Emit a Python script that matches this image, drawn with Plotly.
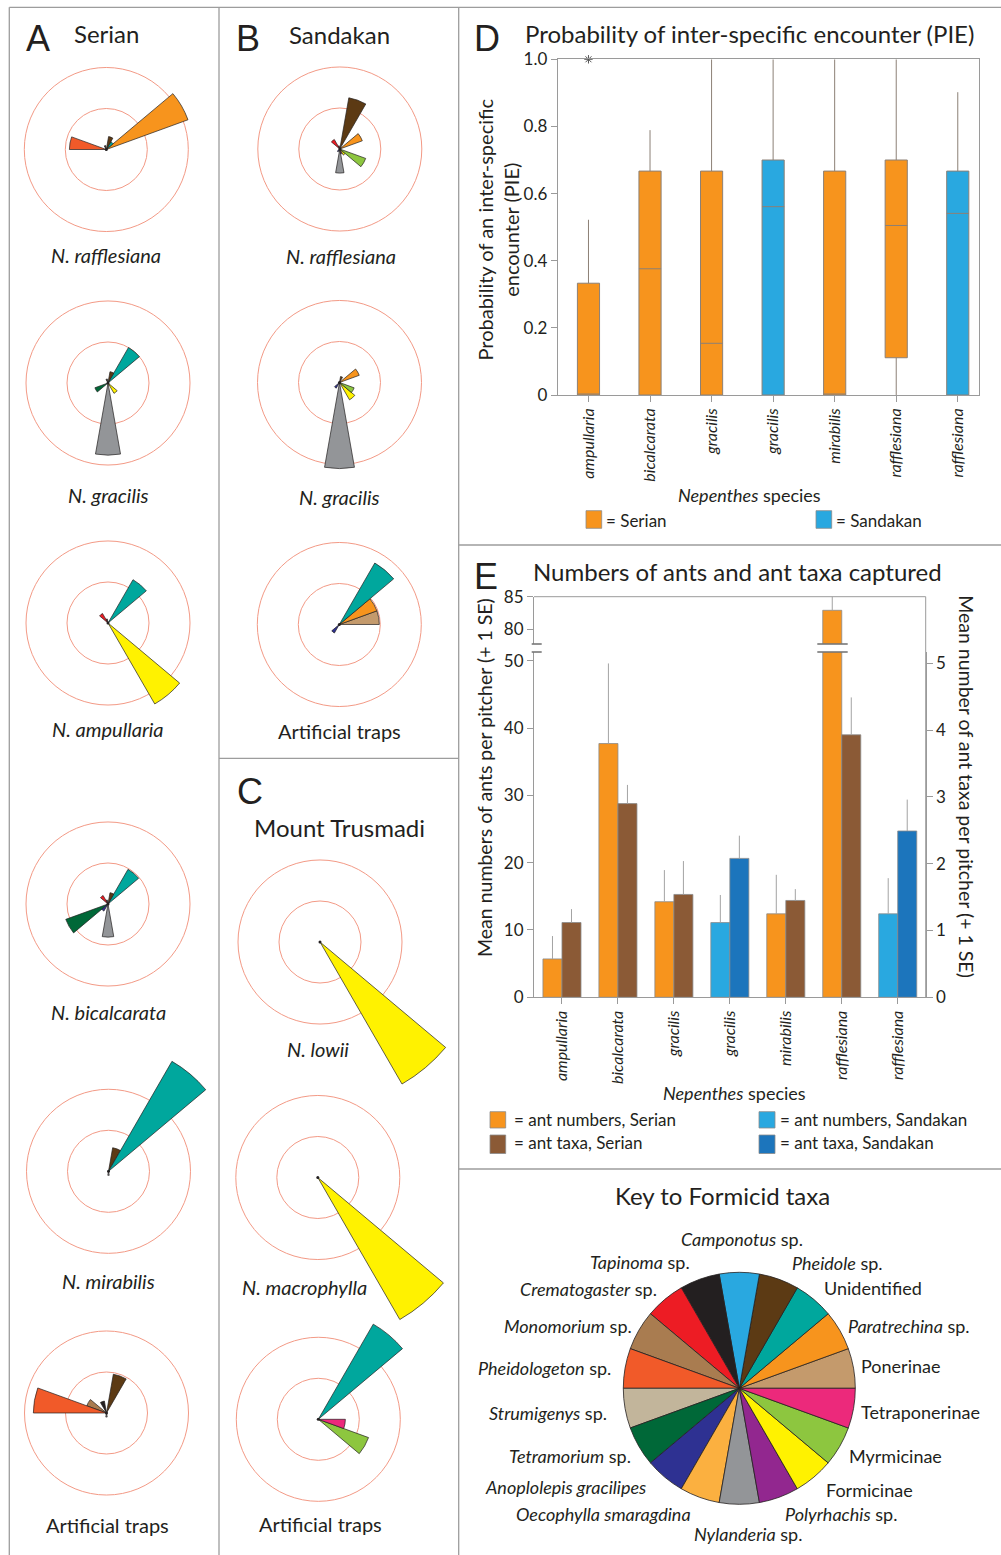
import plotly.graph_objects as go

# ------------------------------------------------------------------
# Formicid taxa (anticlockwise from 3 o'clock, 20 degrees each)
# ------------------------------------------------------------------
taxa = [
    "Ponerinae", "Paratrechina sp.", "Unidentified", "Pheidole sp.",
    "Camponotus sp.", "Tapinoma sp.", "Crematogaster sp.", "Monomorium sp.",
    "Pheidologeton sp.", "Strumigenys sp.", "Tetramorium sp.",
    "Anoplolepis gracilipes", "Oecophylla smaragdina", "Nylanderia sp.",
    "Polyrhachis sp.", "Formicinae", "Myrmicinae", "Tetraponerinae",
]
taxa_labels = [
    "Ponerinae", "<i>Paratrechina</i> sp.", "Unidentified", "<i>Pheidole</i> sp.",
    "<i>Camponotus</i> sp.", "<i>Tapinoma</i> sp.", "<i>Crematogaster</i> sp.",
    "<i>Monomorium</i> sp.", "<i>Pheidologeton</i> sp.", "<i>Strumigenys</i> sp.",
    "<i>Tetramorium</i> sp.", "<i>Anoplolepis gracilipes</i>",
    "<i>Oecophylla smaragdina</i>", "<i>Nylanderia</i> sp.",
    "<i>Polyrhachis</i> sp.", "Formicinae", "Myrmicinae", "Tetraponerinae",
]
taxa_colors = [
    "#c49a6c", "#f7941d", "#00a79d", "#5c3a14", "#29a8e0", "#231f20",
    "#ed1c24", "#a97c50", "#f15a29", "#c2b59b", "#006838", "#2e3192",
    "#fbb040", "#939598", "#92278f", "#fff200", "#8dc63f", "#ec297b",
]
key_shares = [1, 1, 1, 1, 1, 1, 1, 1, 1, 1, 1, 1, 1, 1, 1, 1, 1, 1]

# Percentage of captured ants per taxon (same order as `taxa`)
serian_rafflesiana = [0, 53, 5.5, 8, 0, 2.5, 0, 0, 22.5, 0, 0, 0, 0, 0, 0, 0, 0, 0]
serian_gracilis = [0, 0, 25, 7, 0, 2.5, 0, 0, 0, 0, 8.5, 0, 0, 44, 0, 7.3, 0, 0]
serian_ampullaria = [0, 0, 30.5, 0, 0, 2.5, 6.7, 0, 0, 0, 0, 0, 0, 0, 0, 57, 0, 0]
serian_bicalcarata = [0, 0, 24.4, 7, 0, 2.5, 6, 0, 0, 0, 27.4, 5, 0, 20.2, 0, 0, 0, 0]
serian_mirabilis = [0, 0, 77.4, 14.6, 0, 0, 0, 0, 0, 0, 0, 0, 0, 2.5, 0, 0, 0, 0]
serian_traps = [0, 0, 0, 24, 0, 7.4, 0, 12.8, 44.6, 0, 0, 0, 0, 2.5, 0, 0, 0, 0]
sandakan_rafflesiana = [0, 14.6, 0, 31.7, 0, 2, 6.7, 0, 0, 0, 0, 2, 0, 14.7, 3, 4.3, 16.8, 0]
sandakan_gracilis = [0, 12.8, 0, 3.7, 0, 0, 0, 0, 0, 0, 0, 4, 0, 52.5, 0, 12.2, 9.5, 0]
sandakan_traps = [24.4, 24.4, 43.3, 0, 0, 0, 0, 0, 0, 0, 0, 6, 0, 0, 0, 0, 0, 0]
trusmadi_lowii = [0, 0, 0, 0, 0, 0, 0, 0, 0, 0, 0, 0, 0, 0, 0, 100, 0, 0]
trusmadi_macrophylla = [0, 0, 0, 0, 0, 0, 0, 0, 0, 0, 0, 0, 0, 0, 0, 100, 0, 0]
trusmadi_traps = [0, 0, 67, 0, 0, 0, 0, 0, 0, 0, 0, 0, 0, 0, 0, 0, 32.6, 16.5]
rose_rings = [25, 50]

# Probability of inter-specific encounter (box statistics)
species = ["ampullaria", "bicalcarata", "gracilis", "gracilis",
           "mirabilis", "rafflesiana", "rafflesiana"]
site = ["Serian", "Serian", "Serian", "Sandakan", "Serian", "Serian", "Sandakan"]
pie_lower = [0, 0, 0, 0, 0, 0, 0]
pie_q1 = [0, 0, 0, 0, 0, 0.111, 0]
pie_median = [0, 0.376, 0.154, 0.561, 0, 0.505, 0.541]
pie_q3 = [0.333, 0.667, 0.667, 0.70, 0.667, 0.70, 0.667]
pie_upper = [0.522, 0.789, 1.0, 1.0, 1.0, 1.0, 0.902]
pie_outlier_idx = [0]
pie_outlier_val = [1.0]

# Ants and ant taxa per pitcher (mean, +1 SE)
ants_mean = [5.7, 37.7, 14.2, 11.1, 12.4, 82.9, 12.4]
ants_se = [3.4, 11.9, 4.7, 4.1, 5.8, 6.0, 5.3]
ant_taxa_mean = [1.12, 2.90, 1.54, 2.08, 1.45, 3.93, 2.49]
ant_taxa_se = [0.20, 0.28, 0.50, 0.34, 0.17, 0.56, 0.47]

# ------------------------------------------------------------------
W, H = 1001, 1555
FONT = "Lato, 'Open Sans', sans-serif"
LETTER = "'Liberation Sans', Arial, sans-serif"
INK = "#231f20"
FRAME = "#9d9d9d"
AXIS = "#9a9a9a"
RING = "#f39a86"
ORANGE = "#f7941d"
SKY = "#29a8e0"
BROWN = "#8b5a36"
NAVY = "#1c75bc"
site_fill = {"Serian": ORANGE, "Sandakan": SKY}
site_taxa_fill = {"Serian": BROWN, "Sandakan": NAVY}


def fx(px):
    return px / W


def fy(py):
    return 1 - py / H


fig = go.Figure()
layout = dict(
    width=W, height=H, margin=dict(l=0, r=0, t=0, b=0),
    paper_bgcolor="white", plot_bgcolor="white", template="none",
    font=dict(family=FONT, color=INK), showlegend=False, barmode="overlay",
)
annotations = []
shapes = []


def text(x, y, s, size, xanchor="center", angle=0, family=FONT):
    annotations.append(dict(
        x=fx(x), y=fy(y), xref="paper", yref="paper", text=s, showarrow=False,
        xanchor=xanchor, yanchor="middle", textangle=angle,
        font=dict(family=family, size=size, color=INK)))


def line(x0, y0, x1, y1, color=FRAME, width=1.3):
    shapes.append(dict(type="line", xref="paper", yref="paper",
                       x0=fx(x0), y0=fy(y0), x1=fx(x1), y1=fy(y1),
                       line=dict(color=color, width=width)))


def swatch(x0, y0, x1, y1, color):
    shapes.append(dict(type="rect", xref="paper", yref="paper",
                       x0=fx(x0), y0=fy(y1), x1=fx(x1), y1=fy(y0),
                       fillcolor=color, line=dict(color="#8a8a8a", width=0.8)))


# ------------------------------------------------------------------
# Rose diagrams (panels A, B, C)
# ------------------------------------------------------------------
RING_PX = 82.0                       # pixel radius of the 50 % ring
SCALE = RING_PX / rose_rings[-1]     # pixels per percentage point
R_MIN = 51
theta = [10 + 20 * i for i in range(len(taxa))]

roses = [
    (serian_rafflesiana, 106.3, 149.5),
    (serian_gracilis, 108.0, 383.0),
    (serian_ampullaria, 108.0, 623.0),
    (serian_bicalcarata, 108.0, 904.0),
    (serian_mirabilis, 108.5, 1171.3),
    (serian_traps, 106.5, 1413.0),
    (sandakan_rafflesiana, 339.8, 149.0),
    (sandakan_gracilis, 339.5, 382.5),
    (sandakan_traps, 339.3, 624.5),
    (trusmadi_lowii, 320.0, 942.0),
    (trusmadi_macrophylla, 317.8, 1177.5),
    (trusmadi_traps, 318.3, 1419.3),
]

polar_count = [0]


def add_polar(vals, idx, rmax, dom_x, dom_y, sector=None, rings=True):
    polar_count[0] += 1
    n = polar_count[0]
    pid = "polar" if n == 1 else f"polar{n}"
    fig.add_trace(go.Barpolar(
        r=[vals[i] for i in idx], theta=[theta[i] for i in idx],
        width=[20] * len(idx),
        marker=dict(color=[taxa_colors[i] for i in idx],
                    line=dict(color=INK, width=0.7)),
        subplot=pid, hoverinfo="skip", showlegend=False))
    if rings:
        fig.add_trace(go.Scatterpolar(
            r=[0], theta=[0], mode="markers", cliponaxis=False,
            marker=dict(size=3, color=INK), subplot=pid,
            hoverinfo="skip", showlegend=False))
    spec = dict(
        domain=dict(x=[fx(dom_x[0]), fx(dom_x[1])],
                    y=[fy(dom_y[1]), fy(dom_y[0])]),
        bgcolor="rgba(0,0,0,0)", barmode="overlay",
        radialaxis=dict(range=[0, rmax], tickvals=rose_rings,
                        showticklabels=False, ticks="", showline=False,
                        showgrid=rings, gridcolor=RING, gridwidth=1),
        angularaxis=dict(rotation=0, direction="counterclockwise",
                         showgrid=False, showline=False,
                         showticklabels=False, ticks=""),
    )
    if sector is not None:
        spec["sector"] = sector
    layout[pid] = spec


for vals, cx, cy in roses:
    nonzero = [i for i, v in enumerate(vals) if v > 0]
    r_need = max(R_MIN, max(vals) * 1.03)
    half = r_need * SCALE
    fits = (cx - half >= 0 and cx + half <= W and cy - half >= 0 and cy + half <= H)
    if fits:
        add_polar(vals, nonzero, r_need, (cx - half, cx + half), (cy - half, cy + half))
    else:
        # rings and short wedges on a full disc, long wedges on a quarter sector
        half0 = R_MIN * SCALE
        short = [i for i in nonzero if vals[i] <= R_MIN]
        long_ = [i for i in nonzero if vals[i] > R_MIN]
        add_polar(vals, short, R_MIN, (cx - half0, cx + half0), (cy - half0, cy + half0))
        add_polar(vals, long_, r_need, (cx, cx + half), (cy - half, cy),
                  sector=[0, 90], rings=False)

# rose captions
rose_captions = [
    ("<i>N. rafflesiana</i>", 106, 255), ("<i>N. gracilis</i>", 108.5, 495),
    ("<i>N. ampullaria</i>", 108, 729), ("<i>N. bicalcarata</i>", 108.3, 1011.7),
    ("<i>N. mirabilis</i>", 108.8, 1281), ("Artificial traps", 107.5, 1525),
    ("<i>N. rafflesiana</i>", 340.5, 256), ("<i>N. gracilis</i>", 339.5, 496.7),
    ("Artificial traps", 339.3, 730.7), ("<i>N. lowii</i>", 318.3, 1049.3),
    ("<i>N. macrophylla</i>", 304, 1286.7), ("Artificial traps", 320, 1524),
]
for s, x, y in rose_captions:
    text(x, y, s, 20)

text(38, 38.5, "A", 36, family=LETTER)
text(106.2, 33.5, "Serian", 24)
text(248.3, 38.5, "B", 36, family=LETTER)
text(339, 34, "Sandakan", 24)
text(250, 791, "C", 36, family=LETTER)
text(339, 827.7, "Mount Trusmadi", 24)

# ------------------------------------------------------------------
# Panel D : PIE box plots
# ------------------------------------------------------------------
xpos = list(range(len(species)))
for s in ["Serian", "Sandakan"]:
    idx = [i for i in xpos if site[i] == s]
    fig.add_trace(go.Box(
        x=idx, q1=[pie_q1[i] for i in idx], median=[pie_median[i] for i in idx],
        q3=[pie_q3[i] for i in idx], lowerfence=[pie_lower[i] for i in idx],
        upperfence=[pie_upper[i] for i in idx], width=0.36, whiskerwidth=0,
        fillcolor=site_fill[s], line=dict(color="#8c8076", width=1),
        boxpoints=False, xaxis="x", yaxis="y", hoverinfo="skip"))
fig.add_trace(go.Scatter(
    x=pie_outlier_idx, y=pie_outlier_val, mode="markers", cliponaxis=False,
    marker=dict(symbol="asterisk-open", size=7, color="#555",
                line=dict(color="#555", width=1)),
    xaxis="x", yaxis="y", hoverinfo="skip"))

tick_common = dict(ticks="outside", ticklen=6, tickcolor=AXIS, showline=True,
                   linecolor=AXIS, linewidth=1, showgrid=False, zeroline=False)
layout["xaxis"] = dict(
    domain=[fx(557.7), fx(978.7)], range=[-0.5, 6.34], anchor="y",
    tickmode="array", tickvals=xpos, ticktext=[f"<i>{s}</i>" for s in species],
    tickangle=-90, mirror=True, tickfont=dict(size=16, color=INK), **tick_common)
layout["yaxis"] = dict(
    domain=[fy(395), fy(59.3)], range=[0, 1], anchor="x",
    tickmode="array", tickvals=[0, 0.2, 0.4, 0.6, 0.8, 1.0],
    ticktext=["0", "0.2", "0.4", "0.6", "0.8", "1.0"], mirror=True,
    tickfont=dict(size=17, color=INK), **tick_common)

text(486.7, 38.5, "D", 36, family=LETTER)
text(523.3, 33.3, "Probability of inter-specific encounter (PIE)", 24, "left")
text(497.5, 230, "Probability of an inter-specific<br>encounter (PIE)", 20, angle=-90)
text(749.5, 495, "<i>Nepenthes</i> species", 18)
swatch(586, 510.7, 601.7, 528.3, ORANGE)
text(603.5, 520, "= Serian", 17, "left")
swatch(816, 510.7, 831.7, 528.3, SKY)
text(833.5, 520, "= Sandakan", 17, "left")

# ------------------------------------------------------------------
# Panel E : numbers of ants and ant taxa
# ------------------------------------------------------------------
ant_colors = [site_fill[s] for s in site]
taxa_bar_colors = [site_taxa_fill[s] for s in site]
BW = 0.34
for yax in ["y2", "y3"]:
    fig.add_trace(go.Bar(
        x=xpos, y=ants_mean, width=BW, offset=-BW,
        marker=dict(color=ant_colors, line=dict(color="#8a8a8a", width=0.8)),
        error_y=dict(type="data", array=ants_se, arrayminus=[0] * len(xpos),
                     symmetric=False, color="#a3a3a3", thickness=1, width=0),
        xaxis="x2", yaxis=yax, hoverinfo="skip"))
fig.add_trace(go.Bar(
    x=xpos, y=ant_taxa_mean, width=BW, offset=0,
    marker=dict(color=taxa_bar_colors, line=dict(color="#8a8a8a", width=0.8)),
    error_y=dict(type="data", array=ant_taxa_se, arrayminus=[0] * len(xpos),
                 symmetric=False, color="#a3a3a3", thickness=1, width=0),
    xaxis="x2", yaxis="y4", hoverinfo="skip"))

E_LEFT, E_RIGHT, E_TOP, E_BOTTOM = 534, 925.7, 596.7, 997.3
LOW_TOP, UP_BOTTOM = 652, 644
layout["xaxis2"] = dict(
    domain=[fx(E_LEFT), fx(E_RIGHT)], range=[-0.5, 6.5], anchor="y2",
    tickmode="array", tickvals=xpos, ticktext=[f"<i>{s}</i>" for s in species],
    tickangle=-90, tickfont=dict(size=16, color=INK), **tick_common)
layout["yaxis2"] = dict(
    domain=[fy(E_BOTTOM), fy(LOW_TOP)], range=[0, 51.3], anchor="x2",
    tickmode="array", tickvals=[0, 10, 20, 30, 40, 50],
    tickfont=dict(size=17, color=INK), **tick_common)
layout["yaxis3"] = dict(
    domain=[fy(UP_BOTTOM), fy(E_TOP)], range=[77.7, 85], anchor="x2",
    tickmode="array", tickvals=[80, 85],
    tickfont=dict(size=17, color=INK), **tick_common)
layout["yaxis4"] = dict(
    domain=[fy(E_BOTTOM), fy(LOW_TOP)], range=[0, 5.17], anchor="x2",
    overlaying="y2", side="right", tickmode="array", tickvals=[0, 1, 2, 3, 4, 5],
    tickfont=dict(size=17, color=INK), **tick_common)

# frame pieces and axis breaks
line(E_LEFT, E_TOP, E_RIGHT, E_TOP, AXIS, 1)
line(E_RIGHT, E_TOP, E_RIGHT, E_BOTTOM, AXIS, 1)
for yb in (UP_BOTTOM, LOW_TOP):
    line(531.7, yb, 541.7, yb, "#777", 1.6)
    line(817.3, yb, 847.7, yb, "#777", 1.6)

text(485.8, 576, "E", 36, family=LETTER)
text(530.7, 571, "Numbers of ants and ant taxa captured", 24, "left")
text(484, 778, "Mean numbers of ants per pitcher (+ 1 SE)", 19.5, angle=-90)
text(966.5, 786.7, "Mean number of ant taxa per pitcher (+ 1 SE)", 19.5, angle=90)
text(734, 1093, "<i>Nepenthes</i> species", 18)
swatch(490, 1111.7, 505.7, 1128, ORANGE)
text(511.7, 1119.3, "= ant numbers, Serian", 17, "left")
swatch(490, 1135, 505.7, 1153.5, BROWN)
text(511.7, 1142.3, "= ant taxa, Serian", 17, "left")
swatch(759, 1111.7, 775, 1128, SKY)
text(778.3, 1119.3, "= ant numbers, Sandakan", 17, "left")
swatch(759, 1135, 775, 1153.5, NAVY)
text(778.3, 1142.3, "= ant taxa, Sandakan", 17, "left")

# ------------------------------------------------------------------
# Key to Formicid taxa
# ------------------------------------------------------------------
PCX, PCY, PR = 739.3, 1388.3, 116
fig.add_trace(go.Pie(
    values=key_shares, labels=taxa, sort=False, direction="counterclockwise",
    rotation=70, textinfo="none", hoverinfo="skip", showlegend=False,
    marker=dict(colors=taxa_colors, line=dict(color=INK, width=0.8)),
    domain=dict(x=[fx(PCX - PR), fx(PCX + PR)], y=[fy(PCY + PR), fy(PCY - PR)])))

key_label_pos = [
    (859.3, 1366, "left"), (846, 1326, "left"), (821.7, 1288.3, "left"),
    (790, 1262.7, "left"), (741.7, 1239, "center"), (691.7, 1262.3, "right"),
    (659, 1289, "right"), (634, 1325.7, "right"), (613.3, 1367.7, "right"),
    (609, 1413.3, "right"), (633.3, 1456, "right"), (647.7, 1486.7, "right"),
    (693.3, 1514.3, "right"), (747.5, 1534.3, "center"), (783.3, 1514, "left"),
    (824, 1490, "left"), (846.7, 1456, "left"), (859, 1411.7, "left"),
]
for lab, (x, y, anc) in zip(taxa_labels, key_label_pos):
    text(x, y, lab, 18, anc)
text(722.5, 1195.7, "Key to Formicid taxa", 24)

# ------------------------------------------------------------------
# Panel frames
# ------------------------------------------------------------------
line(9.3, 7.3, W, 7.3)
line(9.3, 7.3, 9.3, H)
line(219, 7.3, 219, H)
line(458.7, 7.3, 458.7, H)
line(219, 758.3, 458.7, 758.3)
line(458.7, 545, W, 545)
line(458.7, 1169, W, 1169)

layout["annotations"] = annotations
layout["shapes"] = shapes
fig.update_layout(**layout)
fig.write_html("out.html", config={"displayModeBar": False})
